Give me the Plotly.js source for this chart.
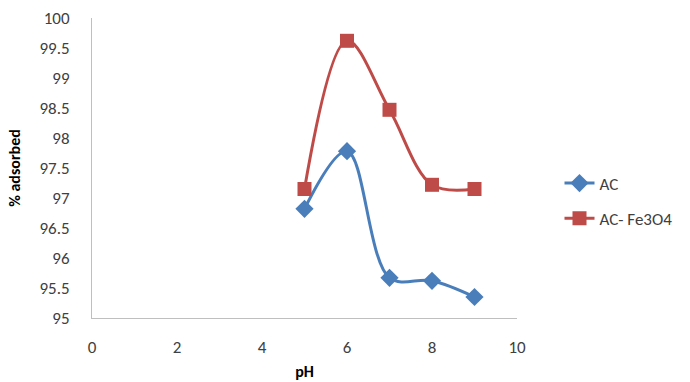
<!DOCTYPE html>
<html>
<head>
<meta charset="utf-8">
<script src="https://cdn.plot.ly/plotly-3.0.1.min.js"></script>
<style>html,body{margin:0;padding:0;background:#fff;}#chart{width:690px;height:382px;}</style>
</head>
<body>
<div id="chart"></div>
<script>
const pH = [5, 6, 7, 8, 9];
const acValues = [96.82, 97.78, 95.67, 95.62, 95.35];
const acFeValues = [97.15, 99.62, 98.47, 97.22, 97.15];
const seriesNames = ["AC", "AC- Fe3O4"];
const xTicks = [0, 2, 4, 6, 8, 10];
const yTicks = [95, 95.5, 96, 96.5, 97, 97.5, 98, 98.5, 99, 99.5, 100];

const font = "Carlito, Calibri, Lato, 'Liberation Sans', Arial, sans-serif";

const traces = [
  {
    x: pH, y: acValues, name: seriesNames[0], type: "scatter", mode: "lines+markers", legendgroup: "a",
    line: {color: "#4a7ebb", width: 3, shape: "spline", smoothing: 1},
    marker: {symbol: "diamond", size: 14, color: "#4a7ebb"}
  },
  {
    x: pH, y: acFeValues, name: seriesNames[1], type: "scatter", mode: "lines+markers", legendgroup: "b",
    line: {color: "#be4b48", width: 3, shape: "spline", smoothing: 1},
    marker: {symbol: "square", size: 14, color: "#be4b48"}
  }
];

const layout = {
  width: 690, height: 382,
  margin: {l: 92, r: 173, t: 18, b: 64},
  paper_bgcolor: "#fff", plot_bgcolor: "#fff",
  font: {family: font, size: 17, color: "#404040"},
  showlegend: true,
  legend: {x: 1.1, y: 0.39, xanchor: "left", yanchor: "middle", traceorder: "grouped", font: {size: 17, color: "#404040"}, tracegroupgap: 10},
  xaxis: {
    range: [0, 10], tickvals: xTicks, ticktext: xTicks.map(String),
    showgrid: false, zeroline: false, showline: true, linecolor: "#bfbfbf", linewidth: 1,
    ticks: "", ticklen: 0, ticklabelstandoff: 14,
    title: {text: "<b>pH</b>", font: {size: 16, color: "#000"}, standoff: 8}
  },
  yaxis: {
    range: [95, 100], tickvals: yTicks, ticktext: yTicks.map(String),
    showgrid: false, zeroline: false, showline: true, linecolor: "#bfbfbf", linewidth: 1,
    ticks: "", ticklen: 0, ticklabelstandoff: 18,
    title: {text: "<b>% adsorbed</b>", font: {size: 16, color: "#000"}, standoff: 14}
  }
};

Plotly.newPlot("chart", traces, layout, {displayModeBar: false, staticPlot: true});
</script>
</body>
</html>
